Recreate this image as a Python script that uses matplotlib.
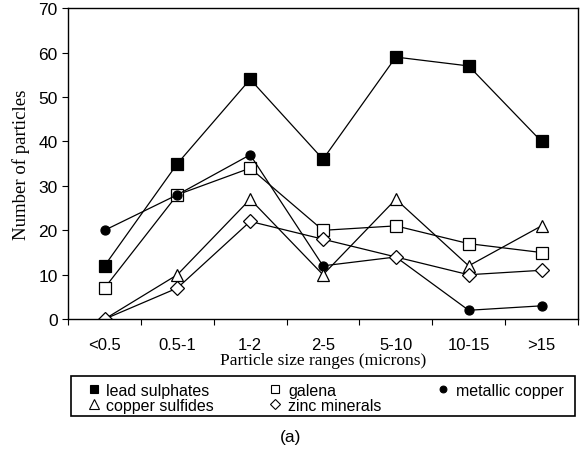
import matplotlib.pyplot as plt
from matplotlib.lines import Line2D
from matplotlib.patches import Rectangle

sizes = ['<0.5', '0.5-1', '1-2', '2-5', '5-10', '10-15', '>15']
lead_sulphates = [12, 35, 54, 36, 59, 57, 40]
galena = [7, 28, 34, 20, 21, 17, 15]
metallic_copper = [20, 28, 37, 12, 14, 2, 3]
copper_sulfides = [0, 10, 27, 10, 27, 12, 21]
zinc_minerals = [0, 7, 22, 18, 14, 10, 11]

plt.rcParams['font.family'] = 'Liberation Sans'

fig = plt.figure(figsize=(5.82, 4.60), dpi=100)
ax = fig.add_axes([0.117, 0.304, 0.876, 0.676])

x = list(range(len(sizes)))
series = [
    ('lead sulphates', lead_sulphates, 's', 'black', 8),
    ('galena', galena, 's', 'white', 8),
    ('metallic copper', metallic_copper, 'o', 'black', 6.5),
    ('copper sulfides', copper_sulfides, '^', 'white', 9),
    ('zinc minerals', zinc_minerals, 'D', 'white', 7),
]
for name, vals, m, fc, ms in series:
    ax.plot(x, vals, color='black', lw=0.9, marker=m, markersize=ms,
            markerfacecolor=fc, markeredgecolor='black', markeredgewidth=0.9)

ax.set_xlim(-0.5, 6.5)
ax.set_ylim(0, 70)
ax.set_yticks(range(0, 71, 10))
ax.set_xticks([i - 0.5 for i in range(8)])
ax.set_xticklabels([])
ax.set_xticks(x, minor=True)
ax.set_xticklabels(sizes, minor=True)
ax.tick_params(axis='x', which='minor', length=0, pad=13, labelsize=12)
ax.tick_params(axis='x', which='major', direction='out', length=4)
ax.tick_params(axis='y', direction='out', length=4, labelsize=12.5)
ax.set_xlabel('Particle size ranges (microns)', family='Liberation Serif',
              fontsize=12.5, labelpad=0)
ax.set_ylabel('Number of particles', family='Liberation Serif', fontsize=13.5,
              labelpad=6)
for s in ax.spines.values():
    s.set_linewidth(1.0)

def handle(m, fc, ms):
    return Line2D([], [], ls='none', marker=m, markersize=ms * 0.75,
                  markerfacecolor=fc, markeredgecolor='black', markeredgewidth=0.8)

# column-wise fill: lead/sulfides, galena/zinc, copper
order = [0, 3, 1, 4, 2]
handles = [handle(series[i][2], series[i][3], series[i][4]) for i in order]
labels = [series[i][0] for i in order]
leg = fig.legend(handles, labels, ncol=3, loc='lower left',
                 bbox_to_anchor=(0.150, 0.100, 0.818, 0.075), mode='expand',
                 frameon=False, fontsize=11.5,
                 handlelength=0.8, handletextpad=0.4, labelspacing=0.0,
                 borderpad=0.0, borderaxespad=0, columnspacing=1.0)

# box around the key, wider than the key itself
fig.patches.append(Rectangle((0.122, 0.093), 0.866, 0.087, transform=fig.transFigure,
                             fill=False, edgecolor='black', linewidth=1.2))

fig.text(0.5, 0.04, '(a)', ha='center', fontsize=12.5)

fig.savefig('out.png', dpi=100)
